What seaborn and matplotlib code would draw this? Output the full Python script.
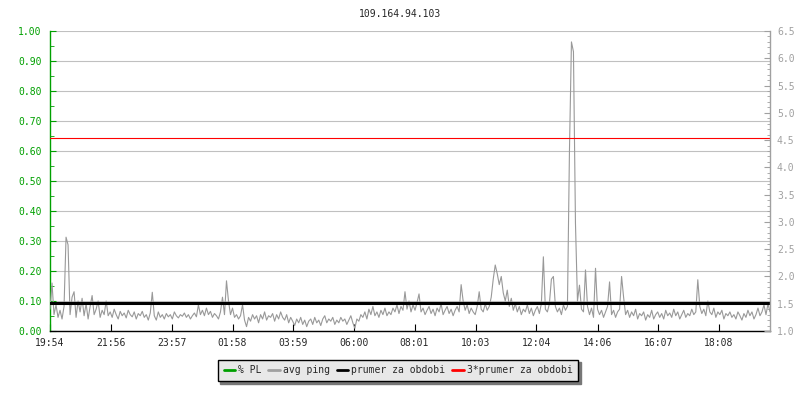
import matplotlib
matplotlib.use('Agg')
import matplotlib.pyplot as plt
from matplotlib.lines import Line2D
from matplotlib.ticker import MultipleLocator, FormatStrFormatter
import numpy as np
import seaborn as sns

# avg ping samples (ms scale of right axis), one every 4 minutes starting 19:54
ping = [
    1.40, 1.88, 1.30, 1.48, 1.25, 1.38, 1.22, 1.45, 2.72, 2.58,
    1.30, 1.62, 1.72, 1.25, 1.55, 1.35, 1.60, 1.28, 1.50, 1.22, 1.45, 1.65, 1.30, 1.40, 1.55, 1.25,
    1.38, 1.30, 1.55, 1.28, 1.35, 1.25, 1.40, 1.30, 1.22, 1.36, 1.28, 1.33, 1.24, 1.38, 1.30, 1.26,
    1.35, 1.22, 1.32, 1.28, 1.36, 1.25, 1.30, 1.20, 1.33, 1.71, 1.28, 1.20, 1.35, 1.25, 1.30, 1.22,
    1.32, 1.26, 1.30, 1.22, 1.35, 1.28, 1.24, 1.30, 1.27, 1.33, 1.25, 1.30, 1.22, 1.28, 1.33, 1.26, 1.48, 1.30,
    1.38, 1.28, 1.42, 1.30, 1.36, 1.25, 1.32, 1.28, 1.22, 1.35,
    1.62, 1.30, 1.92, 1.55, 1.30, 1.42, 1.25, 1.30, 1.22, 1.28,
    1.48, 1.20, 1.08, 1.25, 1.18, 1.30, 1.22, 1.28, 1.15, 1.30,
    1.22, 1.35, 1.20, 1.28, 1.25, 1.32, 1.18, 1.30, 1.22, 1.35,
    1.25, 1.20, 1.30, 1.15, 1.25,
    1.18, 1.10, 1.22, 1.15, 1.25, 1.12, 1.20, 1.08, 1.18, 1.22,
    1.12, 1.25, 1.15, 1.20, 1.10, 1.22, 1.28, 1.15, 1.22, 1.18,
    1.25, 1.12, 1.20, 1.15, 1.25, 1.18, 1.22, 1.12, 1.20, 1.28,
    1.15, 1.05, 1.22, 1.18, 1.30,
    1.25, 1.35, 1.22, 1.40, 1.30, 1.45, 1.28, 1.35, 1.25, 1.38,
    1.30, 1.42, 1.28, 1.35, 1.30, 1.42, 1.35, 1.48, 1.32, 1.45,
    1.38, 1.72, 1.40, 1.55, 1.35, 1.48, 1.38, 1.52, 1.68, 1.35,
    1.42, 1.30, 1.38, 1.45, 1.32, 1.40, 1.28, 1.42, 1.35, 1.50,
    1.30, 1.38, 1.45, 1.32, 1.40, 1.28, 1.38, 1.45, 1.35, 1.85,
    1.55, 1.38, 1.48, 1.32, 1.42, 1.35, 1.30, 1.45, 1.72, 1.40,
    1.35, 1.50, 1.38, 1.45, 1.62,
    1.95, 2.21, 2.05, 1.85, 2.00, 1.70, 1.55, 1.75, 1.45, 1.60,
    1.38, 1.50, 1.35, 1.45, 1.30, 1.40, 1.35, 1.48, 1.32, 1.42,
    1.28, 1.38, 1.45, 1.32, 1.50, 2.36, 1.40, 1.35, 1.50, 1.95,
    2.00, 1.45, 1.35, 1.42, 1.30, 1.48, 1.38, 1.45,
    4.29, 6.30, 6.12, 2.98, 1.55,
    1.84, 1.40, 1.35, 2.12, 1.45, 1.30, 1.42, 1.25, 2.15, 1.40,
    1.30, 1.38, 1.25, 1.35, 1.45, 1.90, 1.30, 1.38, 1.25, 1.35,
    1.40, 2.00,
    1.62, 1.30, 1.38, 1.25, 1.35, 1.28, 1.40, 1.22, 1.32, 1.28,
    1.35, 1.20, 1.30, 1.25, 1.38, 1.22, 1.30, 1.35, 1.25, 1.32,
    1.22, 1.38, 1.28, 1.33, 1.25, 1.40, 1.28, 1.35, 1.22, 1.30,
    1.38, 1.25, 1.32, 1.28, 1.40, 1.30, 1.35, 1.94, 1.45, 1.32,
    1.40, 1.28, 1.55, 1.35, 1.30, 1.42, 1.25, 1.35, 1.30, 1.38,
    1.22, 1.32, 1.28, 1.35, 1.25, 1.30, 1.22, 1.35, 1.28, 1.20,
    1.32, 1.25, 1.38, 1.28, 1.35, 1.22, 1.30, 1.42, 1.28, 1.35,
    1.48, 1.30, 1.50, 1.35, 1.42,
]
step_min = 4
prumer = 1.51
tick_labels = ['19:54', '21:56', '23:57', '01:58', '03:59', '06:00',
               '08:01', '10:03', '12:04', '14:06', '16:07', '18:08']
legend_labels = ['% PL', 'avg ping', 'prumer za obdobi', '3*prumer za obdobi']

GREEN = '#00a000'
GRAY = '#a0a0a0'

sns.set_style('ticks')
plt.rcParams['font.family'] = ['DejaVu Sans Mono']

minutes = np.arange(len(ping)) * step_min

# tick positions in minutes from the first label
def to_offset(label, start='19:54'):
    h, m = map(int, label.split(':'))
    h0, m0 = map(int, start.split(':'))
    return ((h * 60 + m) - (h0 * 60 + m0)) % 1440

tick_pos = [to_offset(t) for t in tick_labels]

fig = plt.figure(figsize=(8, 4), dpi=100)
ax = fig.add_axes([0.0625, 0.1725, 0.9, 0.75])
ax2 = ax.twinx()

# data on right axis
sns.lineplot(x=minutes, y=ping, ax=ax2, color='#999999', lw=0.8)
ax2.axhline(prumer, color='black', lw=2.2)
ax2.axhline(3 * prumer, color='red', lw=0.8)

ax.set_xlim(0, 1436)
ax.set_ylim(0, 1)
ax2.set_ylim(1, 6.5)

# left axis
ax.yaxis.set_major_locator(MultipleLocator(0.1))
ax.yaxis.set_minor_locator(MultipleLocator(0.05))
ax.yaxis.set_major_formatter(FormatStrFormatter('%.2f'))
ax.tick_params(axis='y', which='both', direction='in', colors=GREEN,
               labelsize=7, pad=6, left=True)
ax.tick_params(axis='y', which='major', length=4)
ax.tick_params(axis='y', which='minor', length=3)
ax.grid(axis='y', color='#c0c0c0', lw=0.8)
ax.set_axisbelow(True)

# right axis
ax2.yaxis.set_major_locator(MultipleLocator(0.5))
ax2.yaxis.set_minor_locator(MultipleLocator(0.1))
ax2.yaxis.set_major_formatter(FormatStrFormatter('%.1f'))
ax2.tick_params(axis='y', which='both', direction='in', colors=GRAY,
                labelsize=7, pad=5, right=True)
ax2.tick_params(axis='y', which='major', length=4)
ax2.tick_params(axis='y', which='minor', length=2.5)

# x axis
ax.set_xticks(tick_pos)
ax.set_xticklabels(tick_labels)
ax.tick_params(axis='x', direction='in', length=5, color='black',
               labelsize=7, pad=5, bottom=True)
ax.set_xlabel('')
ax2.set_ylabel('')

for s in ['top', 'right']:
    ax.spines[s].set_visible(False)
for s in ['top', 'left', 'bottom']:
    ax2.spines[s].set_visible(False)
ax.spines['left'].set_color(GREEN)
ax.spines['bottom'].set_color('black')
ax2.spines['right'].set_color(GRAY)
for s in ['left', 'bottom']:
    ax.spines[s].set_linewidth(1)
ax2.spines['right'].set_linewidth(1)

fig.text(0.5, 0.965, '109.164.94.103', ha='center', va='center', fontsize=7)

handles = [Line2D([0], [0], color=c, lw=2)
           for c in [GREEN, GRAY, 'black', 'red']]
fig.legend(handles, legend_labels, loc='center', bbox_to_anchor=(0.4975, 0.074),
           ncol=4, fontsize=7, frameon=True, fancybox=False, framealpha=1,
           shadow={'color': '#777777', 'alpha': 1}, edgecolor='black',
           facecolor='#e8e8e8', handlelength=1.2, handletextpad=0.3,
           columnspacing=0.7, borderpad=0.6)

fig.savefig('out.png', dpi=100)
